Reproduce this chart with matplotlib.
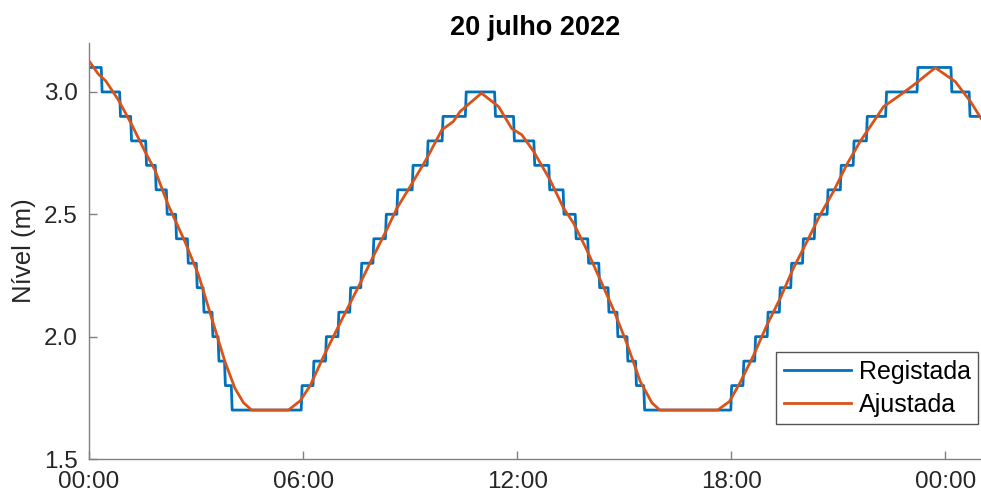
import numpy as np
import matplotlib
matplotlib.use("Agg")
import matplotlib.pyplot as plt

plt.rcParams['font.family'] = ['Liberation Sans', 'DejaVu Sans']

# registered level (m): starting level, then (hour, new level) at each step
reg_start = 3.1
reg_step_hours = [0.355, 0.87, 1.18, 1.60, 1.87, 2.18, 2.44, 2.77, 3.02, 3.21,
                  3.46, 3.63, 3.81, 4.00, 5.96, 6.29, 6.64, 6.99, 7.32, 7.63,
                  7.97, 8.32, 8.64, 9.07, 9.49, 9.91, 10.56, 11.38, 11.91, 12.48,
                  12.90, 13.30, 13.64, 13.99, 14.30, 14.56, 14.81, 15.09, 15.33, 15.56,
                  18.00, 18.34, 18.67, 19.02, 19.36, 19.68, 20.01, 20.34, 20.70, 21.07,
                  21.43, 21.80, 22.34, 23.22, 24.17, 24.68]
reg_step_levels = [3.0, 2.9, 2.8, 2.7, 2.6, 2.5, 2.4, 2.3, 2.2, 2.1,
                   2.0, 1.9, 1.8, 1.7, 1.8, 1.9, 2.0, 2.1, 2.2, 2.3,
                   2.4, 2.5, 2.6, 2.7, 2.8, 2.9, 3.0, 2.9, 2.8, 2.7,
                   2.6, 2.5, 2.4, 2.3, 2.2, 2.1, 2.0, 1.9, 1.8, 1.7,
                   1.8, 1.9, 2.0, 2.1, 2.2, 2.3, 2.4, 2.5, 2.6, 2.7,
                   2.8, 2.9, 3.0, 3.1, 3.0, 2.9]
t_end = 25.0

# fitted level (m)
fit_hours = [0, 0.26, 0.47, 0.82, 1.2, 1.57, 1.85, 2.22, 2.69, 3.07,
             3.44, 3.81, 4.09, 4.33, 4.56, 5.59, 5.92, 6.2, 6.57, 6.94,
             7.27, 7.6, 7.92, 8.34, 8.63, 9.0, 9.47, 9.89, 10.21, 10.4,
             11.0, 11.48, 11.85, 12.13, 12.46, 12.92, 13.3, 13.58, 13.95, 14.33,
             14.7, 15.07, 15.45, 15.78, 16.0, 17.62, 17.95, 18.25, 18.63, 19.0,
             19.37, 19.74, 20.12, 20.49, 20.86, 21.23, 21.61, 21.99, 22.27, 22.74,
             23.11, 23.72, 24.28, 24.71, 25.0]
fit_levels = [3.127, 3.073, 3.045, 2.968, 2.866, 2.756, 2.68, 2.538, 2.388, 2.252,
              2.075, 1.898, 1.789, 1.73, 1.70, 1.70, 1.738, 1.80, 1.918, 2.027,
              2.123, 2.218, 2.314, 2.436, 2.525, 2.613, 2.729, 2.845, 2.879, 2.92,
              2.995, 2.94, 2.85, 2.825, 2.757, 2.641, 2.525, 2.464, 2.355, 2.232,
              2.11, 1.974, 1.817, 1.729, 1.70, 1.70, 1.735, 1.813, 1.925, 2.047,
              2.156, 2.279, 2.388, 2.497, 2.592, 2.701, 2.797, 2.879, 2.94, 2.988,
              3.028, 3.099, 3.042, 2.96, 2.892]

tick_hours = [0, 6, 12, 18, 24]
tick_labels = ["00:00", "06:00", "12:00", "18:00", "00:00"]

# build the staircase of the registered series (short ramp per step)
ramp = 0.025
rx = [0.0]
ry = [reg_start]
prev = reg_start
for h, lv in zip(reg_step_hours, reg_step_levels):
    rx += [h - ramp / 2, h + ramp / 2]
    ry += [prev, lv]
    prev = lv
rx.append(t_end)
ry.append(prev)

fig = plt.figure(figsize=(9.81, 4.95), dpi=100)
ax = fig.add_axes([89 / 981, 1 - 459 / 495, 1 - 89 / 981, (459 - 43) / 495])

ax.plot(rx, ry, color='#0072BD', lw=2.0, label='Registada')
ax.plot(fit_hours, fit_levels, color='#D95319', lw=2.0, label='Ajustada')

ax.set_xlim(0, t_end)
ax.set_ylim(1.5, 3.2)
ax.set_xticks(tick_hours)
ax.set_xticklabels(tick_labels)
ax.set_yticks([1.5, 2.0, 2.5, 3.0])
ax.set_yticklabels(["%.1f" % v for v in [1.5, 2.0, 2.5, 3.0]])

for s in ['top', 'right']:
    ax.spines[s].set_visible(False)
for s in ['left', 'bottom']:
    ax.spines[s].set_color('#808080')
    ax.spines[s].set_linewidth(1.0)
ax.tick_params(axis='both', direction='in', length=6, width=1.0,
               color='#808080', labelsize=17.5, labelcolor='#262626')
ax.tick_params(axis='y', pad=8)
ax.tick_params(axis='x', pad=9)

ax.set_ylabel('Nível (m)', fontsize=18.5, color='#262626', labelpad=6)
ax.set_title('20 julho 2022', fontsize=19.5, fontweight='bold', pad=6)

leg = ax.legend(loc='lower right', bbox_to_anchor=(0.997, 0.084), borderaxespad=0,
                fontsize=18, fancybox=False, framealpha=1, edgecolor='#555555',
                handlelength=2.7, handletextpad=0.3, labelspacing=0.35,
                borderpad=0.3)
leg.get_frame().set_linewidth(1.0)

fig.savefig('out.png', dpi=100)
